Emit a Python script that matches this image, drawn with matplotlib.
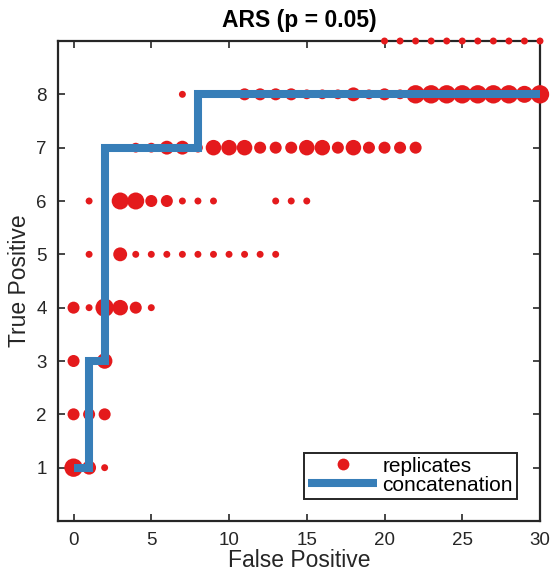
import matplotlib
matplotlib.use("Agg")
import matplotlib.pyplot as plt
from matplotlib.lines import Line2D
import numpy as np

plt.rcParams['font.family'] = ['Liberation Sans', 'DejaVu Sans']

# replicate points: false positives, true positives, relative count (dot area)
rep_fp = [0, 1, 2,
          0, 1, 2,
          0, 2,
          0, 1, 2, 3, 4, 5,
          1, 2, 3, 4, 5, 6, 7, 8, 9, 10, 11, 12, 13,
          1, 2, 3, 4, 5, 6, 7, 8, 9, 13, 14, 15,
          3, 4, 5, 6, 7, 8, 9, 10, 11, 12, 13, 14, 15, 16, 17, 18, 19, 20, 21, 22,
          7, 8, 9, 10, 11, 12, 13, 14, 15, 16, 17, 18, 19, 20, 21, 22, 23, 24, 25, 26, 27, 28, 29, 30,
          20, 21, 22, 23, 24, 25, 26, 27, 28, 29, 30]
rep_tp = [1, 1, 1,
          2, 2, 2,
          3, 3,
          4, 4, 4, 4, 4, 4,
          5, 5, 5, 5, 5, 5, 5, 5, 5, 5, 5, 5, 5,
          6, 6, 6, 6, 6, 6, 6, 6, 6, 6, 6, 6,
          7, 7, 7, 7, 7, 7, 7, 7, 7, 7, 7, 7, 7, 7, 7, 7, 7, 7, 7, 7,
          8, 8, 8, 8, 8, 8, 8, 8, 8, 8, 8, 8, 8, 8, 8, 8, 8, 8, 8, 8, 8, 8, 8, 8,
          9, 9, 9, 9, 9, 9, 9, 9, 9, 9, 9]
rep_count = [7, 4, 1,
             3, 3, 3,
             3, 5,
             3, 1, 7, 5, 3, 1,
             1, 0.2, 4, 1, 1, 1, 1, 1, 1, 1, 1, 1, 1,
             1, 0.2, 6, 6, 3, 3, 1, 1, 1, 1, 1, 1,
             0.2, 2, 2, 4, 4, 2, 5, 5, 5, 3, 3, 3, 5, 5, 3, 5, 3, 3, 3, 3,
             1, 1, 1, 1, 3, 3, 3, 3, 2, 2, 2, 4, 2, 3, 2, 7, 7, 7, 7, 7, 7, 7, 6, 7,
             1, 1, 1, 1, 1, 1, 1, 1, 1, 1, 1]

# concatenation step curve
cat_fp = [0, 1, 1, 2, 2, 8, 8, 30]
cat_tp = [1, 1, 3, 3, 7, 7, 8, 8]

red = '#e41a1c'
blue = '#377eb8'
axcol = '#262626'

fig = plt.figure(figsize=(5.53, 5.71), dpi=100)
ax = fig.add_axes([58/553, 50/571, 482/553, 480/571])

sizes = 25.0 * np.array(rep_count)
ax.scatter(rep_fp, rep_tp, s=sizes, color=red, edgecolors='none',
           zorder=3, clip_on=False)
ax.plot(cat_fp, cat_tp, color=blue, lw=5.8, zorder=4, solid_joinstyle='miter',
        solid_capstyle='butt', clip_on=False)

ax.set_xlim(-1, 30)
ax.set_ylim(0, 9)
ax.set_xticks([0, 5, 10, 15, 20, 25, 30])
ax.set_yticks([1, 2, 3, 4, 5, 6, 7, 8])
ax.tick_params(direction='in', length=5, width=1.2, colors=axcol,
               labelsize=13.5, top=True, right=True, pad=8)
for sp in ax.spines.values():
    sp.set_linewidth(1.6)
    sp.set_color(axcol)

ax.set_xlabel('False Positive', fontsize=16.5, color=axcol, labelpad=0)
ax.set_ylabel('True Positive', fontsize=16.5, color=axcol, labelpad=4)
ax.set_title('ARS (p = 0.05)', fontsize=16.5, fontweight='bold', pad=10)

handles = [Line2D([], [], marker='o', ls='none', color=red, markersize=8.5,
                  markeredgewidth=0),
           Line2D([], [], color=blue, lw=5.8, solid_capstyle='butt')]
leg = ax.legend(handles, ['replicates', 'concatenation'], loc='lower right',
                bbox_to_anchor=(0.952, 0.046), borderaxespad=0,
                fontsize=15, handlelength=3.3, handletextpad=0.25,
                labelspacing=0.0, borderpad=0.2, fancybox=False,
                edgecolor=axcol, framealpha=1)
leg.get_frame().set_linewidth(1.4)

fig.savefig('out.png', dpi=100)
